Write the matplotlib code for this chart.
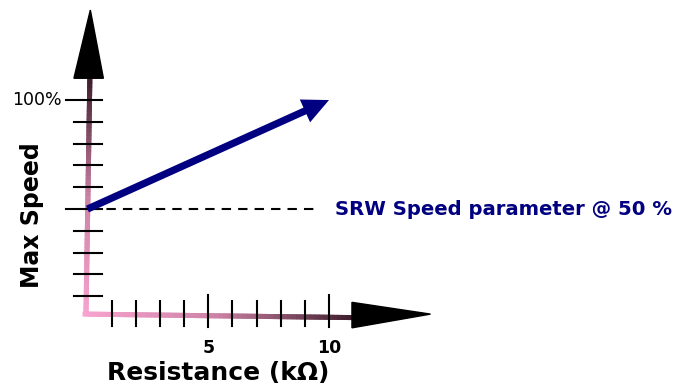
import numpy as np
import matplotlib
matplotlib.use("Agg")
import matplotlib.pyplot as plt
from matplotlib.collections import LineCollection
from matplotlib.colors import LinearSegmentedColormap
from matplotlib.patches import Polygon, FancyArrowPatch

# resistance (kOhm) and max speed (%) values
resistance_ticks = [1, 2, 3, 4, 5, 6, 7, 8, 9, 10]
resistance_labels = [5, 10]
speed_ticks = [10, 20, 30, 40, 50, 60, 70, 80, 90, 100]
speed_labels = [100]
line_resistance = [0, 10]
line_speed = [50, 100]
srw_speed = 50

navy = "#000080"
plt.rcParams["font.family"] = ["DejaVu Sans"]

fig = plt.figure(figsize=(6.8, 3.88), dpi=100)
ax = fig.add_axes([0, 0, 1, 1])
ax.set_xlim(-3.62, 24.53)
ax.set_ylim(-32.1, 145.9)
ax.axis("off")

axis_cmap = LinearSegmentedColormap.from_list(
    "axis", [(0, "#f8a3cf"), (0.5, "#cd82a6"), (1, "#42202f")])


def gradient_line(xs, ys, n=60):
    t = np.linspace(0, 1, n)
    px = np.interp(t, [0, 1], xs)
    py = np.interp(t, [0, 1], ys)
    pts = np.column_stack([px, py]).reshape(-1, 1, 2)
    segs = np.concatenate([pts[:-1], pts[1:]], axis=1)
    lc = LineCollection(segs, cmap=axis_cmap, linewidths=3.6, capstyle="projecting")
    lc.set_array(t[:-1])
    ax.add_collection(lc)


# axes with colour gradient
gradient_line([-0.06, 0.1], [2, 110.5])
gradient_line([-0.1, 11.0], [1.8, 0.2])

# arrow heads at the axis ends
ax.add_patch(Polygon([[-0.56, 110], [0.66, 110], [0.12, 141.3]], closed=True, color="black", zorder=4))
ax.add_patch(Polygon([[10.95, 7.2], [10.95, -4.5], [14.2, 1.8]], closed=True, color="black", zorder=4))

# y ticks
for s in speed_ticks:
    left = -0.89 if s in (50, 100) else -0.56
    ax.plot([left, 0.6], [s, s], color="black", lw=1.5, zorder=3)
for s in speed_labels:
    ax.text(-1.06, s, f"{s}%", ha="right", va="center", fontsize=12.5)

# x ticks
for r in resistance_ticks:
    lo, hi = (-4.1, 10.5) if r in resistance_labels else (-3.7, 7.8)
    ax.plot([r, r], [lo, hi], color="black", lw=1.5, zorder=3)
for r in resistance_labels:
    ax.text(r, -13.8, str(r), ha="center", va="center", fontsize=12.5, fontweight="bold")

ax.text(5.4, -25.2, "Resistance (kΩ)", ha="center", va="center", fontsize=18, fontweight="bold")
ax.text(-2.3, 47, "Max Speed", ha="center", va="center", rotation=90, fontsize=17, fontweight="bold")

# SRW speed parameter reference
ax.plot([0.1, 9.5], [srw_speed, srw_speed], color="black", lw=1.5, linestyle=(0, (4.5, 3.4)), zorder=2)
ax.text(10.25, srw_speed, f"SRW Speed parameter @ {srw_speed} %", ha="left", va="center",
        fontsize=14.1, fontweight="bold", color=navy)

# speed rises with resistance
speed_arrow = FancyArrowPatch(
    (line_resistance[0], line_speed[0]), (line_resistance[1], line_speed[1]),
    arrowstyle="simple,head_length=1.9,head_width=1.8,tail_width=0.52",
    mutation_scale=10, color=navy, lw=0, shrinkA=0, shrinkB=0, zorder=5)
ax.add_patch(speed_arrow)

fig.savefig("out.png", dpi=100)
